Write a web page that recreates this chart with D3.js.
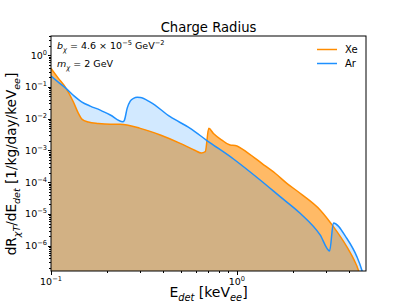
<!DOCTYPE html>
<html lang="en">
<head>
	<meta charset="UTF-8">
	<title>Charge Radius</title>
	<style>
		body { margin: 0; background: white; }
		svg { display: block; font-family: "DejaVu Sans", sans-serif; }
		text { white-space: pre; fill: black; }
		.axis path, .axis line { stroke: black; shape-rendering: crispEdges; }
	</style>
	<script src="https://d3js.org/d3.v7.min.js"></script>
</head>
<body>
	<script type="text/javascript">

		// Xe recoil spectrum (orange)
		var energyXe = [0.1, 0.1094, 0.1208, 0.1318, 0.1402, 0.1465, 0.1588, 0.1795, 0.2085, 0.236,
						0.302, 0.3873, 0.4955, 0.597, 0.643, 0.676, 0.706, 0.748, 0.830, 0.920,
						0.979, 1.154, 1.362, 1.607, 1.857, 2.189, 2.804, 3.305, 3.90, 4.27, 4.50, 4.71];
		var rateXe = [0.382, 0.189, 0.0885, 0.0340, 0.0150, 0.0097, 0.00782, 0.00702, 0.00662, 0.00667,
					  0.00495, 0.00305, 0.00167, 0.000993, 0.000828, 0.00091, 0.00495, 0.0034, 0.00212, 0.00148,
					  0.00143, 0.000811, 0.000393, 0.000191, 9.23e-5, 4.48e-5, 1.34e-5, 3.99e-6, 9.38e-7, 3.57e-7, 1.73e-7, 5.9e-8];

		// Ar recoil spectrum (blue)
		var energyAr = [0.1, 0.1094, 0.1208, 0.1334, 0.146, 0.1626, 0.184, 0.2085, 0.2432, 0.2478,
						0.257, 0.2669, 0.278, 0.291, 0.302, 0.342, 0.4375, 0.561, 0.690, 0.959,
						1.334, 1.709, 2.189, 2.804, 3.155, 3.305, 3.90, 4.42, 4.70, 4.83];
		var rateAr = [0.219, 0.142, 0.0885, 0.0514, 0.0340, 0.0249, 0.0186, 0.0130, 0.0080, 0.00871,
					  0.0215, 0.0357, 0.0435, 0.0468, 0.0461, 0.0333, 0.0115, 0.00495, 0.00205, 0.000537,
					  0.000117, 3.5e-5, 1.05e-5, 2.19e-6, 6.85e-7, 5.21e-6, 1.72e-6, 4.54e-7, 1.73e-7, 9.8e-8];

		var seriesNames = ["Xe", "Ar"];
		var xMajor = [0.1, 1];
		var xMinor = [0.2, 0.3, 0.4, 0.5, 0.6, 0.7, 0.8, 0.9, 2, 3, 4];
		var yMajor = [1, 1e-1, 1e-2, 1e-3, 1e-4, 1e-5, 1e-6];
		var yMinor = [];
		for (let e = -7; e <= 0; e++)
			for (let m = 2; m <= 9; m++) yMinor.push(m * Math.pow(10, e));

		const W = 407, H = 305;
		const L = 51, R = 366, T = 36, B = 271;

		const svg = d3.select("body").append("svg")
					  .attr("width", W).attr("height", H);

		var x = d3.scaleLog().domain([0.1, 4.95]).range([L, R]);
		var y = d3.scaleLog().domain([1.6e-7, 4]).range([B, T]);

		yMinor = yMinor.filter(v => v >= y.domain()[0] && v <= y.domain()[1]);

		svg.append("clipPath").attr("id", "clip")
		   .append("rect").attr("x", L).attr("y", T).attr("width", R - L).attr("height", B - T);

		var xe = energyXe.map((e, i) => [e, rateXe[i]]);
		var ar = energyAr.map((e, i) => [e, rateAr[i]]);

		var area = d3.area().x(d => x(d[0])).y0(B).y1(d => y(d[1])).curve(d3.curveMonotoneX);
		var line = d3.line().x(d => x(d[0])).y(d => y(d[1])).curve(d3.curveMonotoneX);

		const plot = svg.append("g").attr("clip-path", "url(#clip)");
		plot.append("path").attr("d", area(xe)).attr("fill", "#ff8c00").attr("fill-opacity", 0.6);
		plot.append("path").attr("d", area(ar)).attr("fill", "#1e90ff").attr("fill-opacity", 0.2);
		plot.append("path").attr("d", line(xe)).attr("fill", "none").attr("stroke", "#ff8c00").attr("stroke-width", 1.5);
		plot.append("path").attr("d", line(ar)).attr("fill", "none").attr("stroke", "#1e90ff").attr("stroke-width", 1.5);

		// axes
		svg.append("g").attr("class", "axis").attr("transform", "translate(0," + B + ")")
		   .call(d3.axisBottom(x).tickValues(xMajor).tickSize(3.5).tickFormat(() => ""));
		svg.append("g").attr("class", "axis").attr("transform", "translate(0," + B + ")")
		   .call(d3.axisBottom(x).tickValues(xMinor).tickSize(2).tickFormat(() => ""));
		svg.append("g").attr("class", "axis").attr("transform", "translate(" + L + ",0)")
		   .call(d3.axisLeft(y).tickValues(yMajor).tickSize(3.5).tickFormat(() => ""));
		svg.append("g").attr("class", "axis").attr("transform", "translate(" + L + ",0)")
		   .call(d3.axisLeft(y).tickValues(yMinor).tickSize(2).tickFormat(() => ""));
		svg.selectAll(".axis path.domain").remove();

		svg.append("rect").attr("x", L).attr("y", T).attr("width", R - L).attr("height", B - T)
		   .attr("fill", "none").attr("stroke", "black").attr("stroke-width", 1);

		// mathtext-like helper
		function rich(t, parts, fs) {
			let off = 0;
			parts.forEach(p => {
				const target = p.sub ? 0.28 * fs : p.sup ? -0.42 * fs : 0;
				const ts = t.append("tspan").attr("dy", target - off).text(p.t);
				if (p.sub || p.sup) ts.attr("font-size", fs * 0.7);
				if (p.it) ts.attr("font-style", "italic");
				off = target;
			});
			return t;
		}

		function expo(v) { return Math.round(Math.log10(v)); }
		function powLabel(v) {
			const e = expo(v);
			return [{t: "10"}, {t: (e < 0 ? "\u2212" + (-e) : "" + e), sup: true}];
		}

		xMajor.forEach(v => {
			rich(svg.append("text").attr("x", x(v)).attr("y", 285).attr("text-anchor", "middle")
					.attr("font-size", 9.5), powLabel(v), 9.5);
		});
		yMajor.forEach(v => {
			rich(svg.append("text").attr("x", 47).attr("y", y(v) + 3.5).attr("text-anchor", "end")
					.attr("font-size", 9.5), powLabel(v), 9.5);
		});

		// title
		svg.append("text").attr("x", (L + R) / 2).attr("y", 32).attr("text-anchor", "middle")
		   .attr("font-size", 13.2).text("Charge Radius");

		// axis labels
		rich(svg.append("text").attr("x", (L + R) / 2).attr("y", 297).attr("text-anchor", "middle")
				.attr("font-size", 14),
			 [{t: "E"}, {t: "det", sub: true, it: true}, {t: " [keV"}, {t: "ee", sub: true, it: true}, {t: "]"}], 14);

		rich(svg.append("text").attr("transform", "translate(16,164) rotate(-90)").attr("text-anchor", "middle")
				.attr("font-size", 13.6),
			 [{t: "dR"}, {t: "\u03c7T", sub: true, it: true}, {t: "/dE"}, {t: "det", sub: true, it: true},
			  {t: " [1/kg/day/keV"}, {t: "ee", sub: true, it: true}, {t: "]"}], 13.6);

		// annotations
		rich(svg.append("text").attr("x", 57).attr("y", 49).attr("font-size", 9.5),
			 [{t: "b", it: true}, {t: "\u03c7", sub: true, it: true}, {t: " = 4.6 \u00d7 10"},
			  {t: "\u22125", sup: true}, {t: " GeV"}, {t: "\u22122", sup: true}], 9.5);
		rich(svg.append("text").attr("x", 57).attr("y", 67).attr("font-size", 9.5),
			 [{t: "m", it: true}, {t: "\u03c7", sub: true, it: true}, {t: " = 2 GeV"}], 9.5);

		// legend
		var colors = ["#ff8c00", "#1e90ff"];
		var legend = svg.append("g").selectAll("g").data(seriesNames).enter().append("g")
						.attr("transform", (d, i) => "translate(317," + (49.5 + i * 14) + ")");
		legend.append("line").attr("x1", 0).attr("x2", 20).attr("y1", 0).attr("y2", 0)
			  .attr("stroke", (d, i) => colors[i]).attr("stroke-width", 1.5);
		legend.append("text").attr("x", 28).attr("y", 3.5).attr("font-size", 10).text(d => d);

	</script>
</body>
</html>
